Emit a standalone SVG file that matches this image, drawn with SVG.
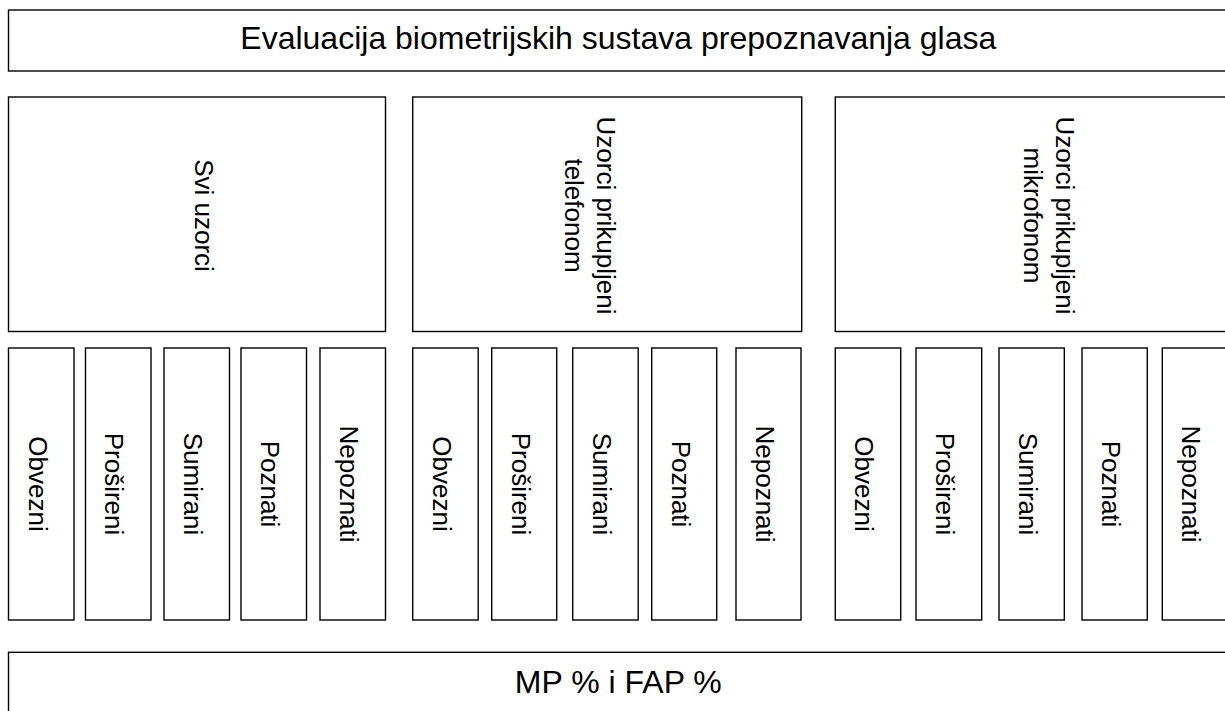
<svg xmlns="http://www.w3.org/2000/svg" width="1225" height="711" viewBox="0 0 1225 711">
<style>
rect{fill:#fff;stroke:#000;stroke-width:1.4}
text{font-family:"Liberation Sans",Arial,sans-serif;fill:#000;text-anchor:middle}
.t{font-size:32px}
.m{font-size:26px}
.b{font-size:32px}
</style>
<rect width="1225" height="711" style="fill:#fff;stroke:none"/>
<g id="title"><rect x="8.5" y="10" width="1240" height="61"/><text class="t" x="618.3" y="49.3">Evaluacija biometrijskih sustava prepoznavanja glasa</text></g>
<g id="svi"><rect x="8.5" y="97" width="377" height="234.5"/><text class="m" transform="translate(195.3,215.5) rotate(90)">Svi uzorci</text></g>
<g id="telefon"><rect x="412.7" y="97" width="389" height="234.5"/><text class="m" transform="translate(597,215.5) rotate(90)">Uzorci prikupljeni</text><text class="m" transform="translate(565,215.5) rotate(90)">telefonom</text></g>
<g id="mikrofon"><rect x="835.3" y="97" width="460" height="234.5"/><text class="m" transform="translate(1055.5,215.5) rotate(90)">Uzorci prikupljeni</text><text class="m" transform="translate(1023.5,215.5) rotate(90)">mikrofonom</text></g>
<g id="a1"><rect x="8.5" y="348" width="65.5" height="272"/><text class="m" transform="translate(28.5,484) rotate(90)">Obvezni</text></g>
<g id="a2"><rect x="85.5" y="348" width="65.5" height="272"/><text class="m" transform="translate(105.3,484) rotate(90)">Prošireni</text></g>
<g id="a3"><rect x="164" y="348" width="65.5" height="272"/><text class="m" transform="translate(183.8,484) rotate(90)">Sumirani</text></g>
<g id="a4"><rect x="241" y="348" width="65.5" height="272"/><text class="m" transform="translate(260.8,484) rotate(90)">Poznati</text></g>
<g id="a5"><rect x="320" y="348" width="65.5" height="272"/><text class="m" transform="translate(339.8,484) rotate(90)">Nepoznati</text></g>
<g id="b1"><rect x="412.7" y="348" width="65.5" height="272"/><text class="m" transform="translate(432.5,484) rotate(90)">Obvezni</text></g>
<g id="b2"><rect x="491.7" y="348" width="65" height="272"/><text class="m" transform="translate(511.5,484) rotate(90)">Prošireni</text></g>
<g id="b3"><rect x="572.7" y="348" width="65.5" height="272"/><text class="m" transform="translate(592.5,484) rotate(90)">Sumirani</text></g>
<g id="b4"><rect x="651.7" y="348" width="65" height="272"/><text class="m" transform="translate(671.5,484) rotate(90)">Poznati</text></g>
<g id="b5"><rect x="736" y="348" width="65" height="272"/><text class="m" transform="translate(755.8,484) rotate(90)">Nepoznati</text></g>
<g id="c1"><rect x="835.3" y="348" width="65.4" height="272"/><text class="m" transform="translate(855.1,484) rotate(90)">Obvezni</text></g>
<g id="c2"><rect x="916" y="348" width="65.7" height="272"/><text class="m" transform="translate(935.8,484) rotate(90)">Prošireni</text></g>
<g id="c3"><rect x="999" y="348" width="65.3" height="272"/><text class="m" transform="translate(1018.8,484) rotate(90)">Sumirani</text></g>
<g id="c4"><rect x="1082" y="348" width="65.3" height="272"/><text class="m" transform="translate(1101.8,484) rotate(90)">Poznati</text></g>
<g id="c5"><rect x="1162.3" y="348" width="65.5" height="272"/><text class="m" transform="translate(1182.1,484) rotate(90)">Nepoznati</text></g>
<g id="result"><rect x="8.5" y="652.3" width="1240" height="80"/><text class="b" x="618.3" y="693.3">MP % i FAP %</text></g>
<g id="connectors"></g>
</svg>
